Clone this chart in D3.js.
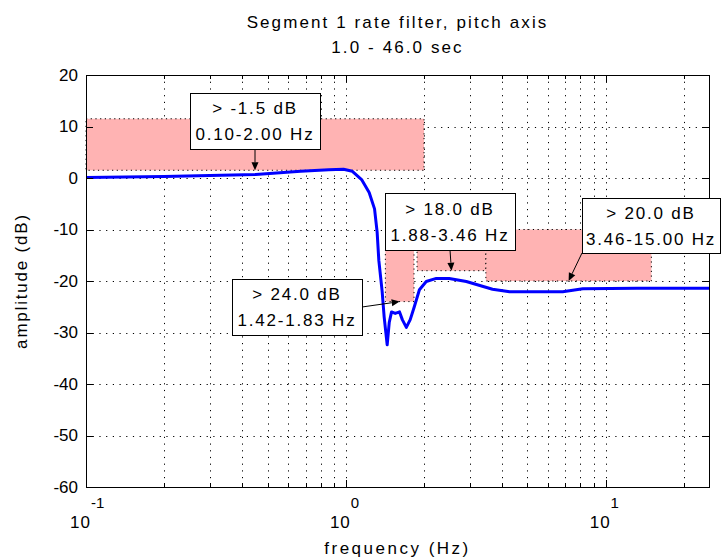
<!DOCTYPE html>
<html>
<head>
<meta charset="utf-8">
<script src="https://cdn.jsdelivr.net/npm/d3@7"></script>
<style>
  body { margin: 0; background: #fff; }
  svg { display: block; font-family: "Liberation Sans", Arial, sans-serif; }
</style>
</head>
<body>
<div id="chart"></div>
<script>
const freqHz = [0.1, 0.2, 0.45, 0.67, 0.86, 0.98, 1.06, 1.15, 1.23, 1.29, 1.32, 1.34, 1.38, 1.405, 1.443,
    1.47, 1.50, 1.55, 1.61, 1.65, 1.71, 1.77, 1.835, 1.92, 2.04, 2.23, 2.5, 2.91, 3.67, 4.27, 6.84, 8.17, 13.2, 25];
const ampDb = [0.1, 0.3, 0.7, 1.3, 1.6, 1.7, 1.3, -0.3, -2.8, -6.0, -10.5, -16, -22, -27, -32.4,
    -28, -26, -26.3, -26, -27.5, -29, -27.5, -25, -21.7, -20.1, -19.5, -19.5, -20.1, -21.6, -22.1, -22.1, -21.5, -21.4, -21.4];

// Rejection bands
const bandLoHz = [0.10, 1.88, 3.46, 1.42];
const bandHiHz = [2.00, 3.46, 15.00, 1.83];
const bandBottomDb = [1.5, -18, -20, -24];
const bandTopDb = [11.5, -8, -10, -14];
const bandLevel = ['> -1.5 dB', '> 18.0 dB', '> 20.0 dB', '> 24.0 dB'];
const bandRange = ['0.10-2.00 Hz', '1.88-3.46 Hz', '3.46-15.00 Hz', '1.42-1.83 Hz'];

// Axis ticks
const yTicks = [20, 10, 0, -10, -20, -30, -40, -50, -60];
const xMajor = [0.1, 1, 10];
const xMajorExp = ['-1', '0', '1'];

const width = 722;
const height = 558;
const margin = { top: 75, right: 13, bottom: 71, left: 86 };
const plotW = width - margin.left - margin.right;
const plotH = height - margin.top - margin.bottom;

const svg = d3.select('#chart').append('svg')
    .attr('width', width)
    .attr('height', height);

const x = d3.scaleLog().domain([0.1, 25]).range([margin.left, margin.left + plotW]);
const y = d3.scaleLinear().domain([-60, 20]).range([margin.top + plotH, margin.top]);

// Minor positions for log grid
const xMinor = [];
for (const dec of [0.1, 1, 10]) {
    for (let k = 1; k <= 9; k++) {
        const v = dec * k;
        if (v > 0.1 && v <= 25) xMinor.push(v);
    }
}

// Grid
const grid = svg.append('g').attr('stroke', '#000').attr('stroke-width', 1)
    .attr('stroke-dasharray', '1.2,5.5');
grid.selectAll('.vgrid').data(xMinor).join('line')
    .attr('x1', d => Math.round(x(d)) + 0.5).attr('x2', d => Math.round(x(d)) + 0.5)
    .attr('y1', y(20)).attr('y2', y(-60));
grid.selectAll('.hgrid').data(yTicks.slice(1, -1)).join('line')
    .attr('y1', d => Math.round(y(d)) + 0.5).attr('y2', d => Math.round(y(d)) + 0.5)
    .attr('x1', x(0.1)).attr('x2', x(25));

// Bands
const bands = bandLoHz.map((lo, i) => ({
    lo, hi: bandHiHz[i], bottom: bandBottomDb[i], top: bandTopDb[i],
    level: bandLevel[i], range: bandRange[i]
}));

svg.append('g').selectAll('rect').data(bands).join('rect')
    .attr('x', d => x(d.lo))
    .attr('y', d => y(d.top))
    .attr('width', d => x(d.hi) - x(d.lo))
    .attr('height', d => y(d.bottom) - y(d.top))
    .attr('fill', '#ffb3b3')
    .attr('stroke', '#000')
    .attr('stroke-width', 1)
    .attr('stroke-dasharray', '1.2,3.5');

// Response curve
const line = d3.line()
    .x((d, i) => x(freqHz[i]))
    .y(d => y(d));
svg.append('path')
    .datum(ampDb)
    .attr('fill', 'none')
    .attr('stroke', '#0000ff')
    .attr('stroke-width', 3)
    .attr('stroke-linejoin', 'round')
    .attr('d', line);

// Axes box
svg.append('rect')
    .attr('x', x(0.1) + 0.5).attr('y', y(20) + 0.5)
    .attr('width', x(25) - x(0.1)).attr('height', y(-60) - y(20))
    .attr('fill', 'none').attr('stroke', '#000').attr('stroke-width', 1);

// Ticks, inward on all four sides
const ticks = svg.append('g').attr('stroke', '#000').attr('stroke-width', 1);
const majorLen = 7, minorLen = 4;
const xTickData = xMinor.map(v => ({ v, len: xMajor.includes(v) ? majorLen : minorLen }));
ticks.selectAll('.xb').data(xTickData).join('line')
    .attr('x1', d => Math.round(x(d.v)) + 0.5).attr('x2', d => Math.round(x(d.v)) + 0.5)
    .attr('y1', y(-60)).attr('y2', d => y(-60) - d.len);
ticks.selectAll('.xt').data(xTickData).join('line')
    .attr('x1', d => Math.round(x(d.v)) + 0.5).attr('x2', d => Math.round(x(d.v)) + 0.5)
    .attr('y1', y(20)).attr('y2', d => y(20) + d.len);
ticks.selectAll('.yl').data(yTicks).join('line')
    .attr('y1', d => Math.round(y(d)) + 0.5).attr('y2', d => Math.round(y(d)) + 0.5)
    .attr('x1', x(0.1)).attr('x2', x(0.1) + majorLen);
ticks.selectAll('.yr').data(yTicks).join('line')
    .attr('y1', d => Math.round(y(d)) + 0.5).attr('y2', d => Math.round(y(d)) + 0.5)
    .attr('x1', x(25)).attr('x2', x(25) - majorLen);

// Tick labels
const fs = 17;
const ls = 1.8; // wide spacing of the original bitmap font
svg.append('g').selectAll('text').data(yTicks).join('text')
    .attr('x', margin.left - 8)
    .attr('y', d => y(d))
    .attr('dy', '0.35em')
    .attr('text-anchor', 'end')
    .attr('font-size', fs)
    .text(d => d);

const xl = svg.append('g').selectAll('g').data(xMajor).join('g')
    .attr('transform', d => `translate(${x(d)},0)`);
xl.append('text')
    .attr('x', 5).attr('y', 528)
    .attr('text-anchor', 'end')
    .attr('font-size', fs)
    .attr('letter-spacing', 1)
    .text('10');
xl.append('text')
    .attr('x', 5).attr('y', 508)
    .attr('text-anchor', 'start')
    .attr('font-size', fs - 2)
    .text((d, i) => xMajorExp[i]);

// Axis titles
svg.append('text')
    .attr('x', (x(0.1) + x(25)) / 2).attr('y', 554)
    .attr('text-anchor', 'middle').attr('font-size', fs)
    .attr('letter-spacing', 2.5)
    .text('frequency (Hz)');
svg.append('text')
    .attr('transform', `translate(27,${(y(20) + y(-60)) / 2}) rotate(-90)`)
    .attr('text-anchor', 'middle').attr('font-size', fs)
    .attr('letter-spacing', ls)
    .text('amplitude (dB)');

// Title
const title = svg.append('text')
    .attr('text-anchor', 'middle').attr('font-size', fs)
    .attr('letter-spacing', 2.1);
title.append('tspan').attr('x', (x(0.1) + x(25)) / 2).attr('y', 28).text('Segment 1 rate filter, pitch axis');
title.append('tspan').attr('x', (x(0.1) + x(25)) / 2).attr('y', 53).text('1.0 - 46.0 sec');

// Annotation boxes (pixel layout) and the point on the box the arrow leaves from
const labelBox = [
    { cx: 255, cy: 121, w: 130, h: 56, fx: 0.5, fy: 1 },
    { cx: 450, cy: 221.5, w: 130, h: 57, fx: 0.5, fy: 1 },
    { cx: 651, cy: 225.5, w: 138, h: 55, fx: 0, fy: 1 },
    { cx: 297, cy: 307, w: 130, h: 56, fx: 1, fy: 0.5 }
];

const ann = svg.append('g');
bands.forEach((b, i) => {
    const L = labelBox[i];
    const tipX = x(Math.sqrt(b.lo * b.hi));
    const tipY = y(b.bottom);
    const tailX = L.cx - L.w / 2 + L.fx * L.w;
    const tailY = L.cy - L.h / 2 + L.fy * L.h;
    const ang = Math.atan2(tipY - tailY, tipX - tailX);
    const hl = 8, hw = 3.5;
    const bx = tipX - hl * Math.cos(ang), by = tipY - hl * Math.sin(ang);
    ann.append('line')
        .attr('x1', tailX).attr('y1', tailY).attr('x2', bx).attr('y2', by)
        .attr('stroke', '#000').attr('stroke-width', 1);
    ann.append('path')
        .attr('d', `M${tipX},${tipY}L${bx + hw * Math.sin(ang)},${by - hw * Math.cos(ang)}` +
            `L${bx - hw * Math.sin(ang)},${by + hw * Math.cos(ang)}Z`)
        .attr('fill', '#000');
    ann.append('rect')
        .attr('x', Math.round(L.cx - L.w / 2) + 0.5).attr('y', Math.round(L.cy - L.h / 2) + 0.5)
        .attr('width', L.w).attr('height', L.h)
        .attr('fill', '#fff').attr('stroke', '#000').attr('stroke-width', 1);
    ann.append('text')
        .attr('x', L.cx).attr('y', L.cy - 7)
        .attr('text-anchor', 'middle').attr('font-size', fs)
        .attr('letter-spacing', ls)
        .text(b.level);
    ann.append('text')
        .attr('x', L.cx).attr('y', L.cy + 19)
        .attr('text-anchor', 'middle').attr('font-size', fs)
        .attr('letter-spacing', ls)
        .text(b.range);
});
</script>
</body>
</html>
